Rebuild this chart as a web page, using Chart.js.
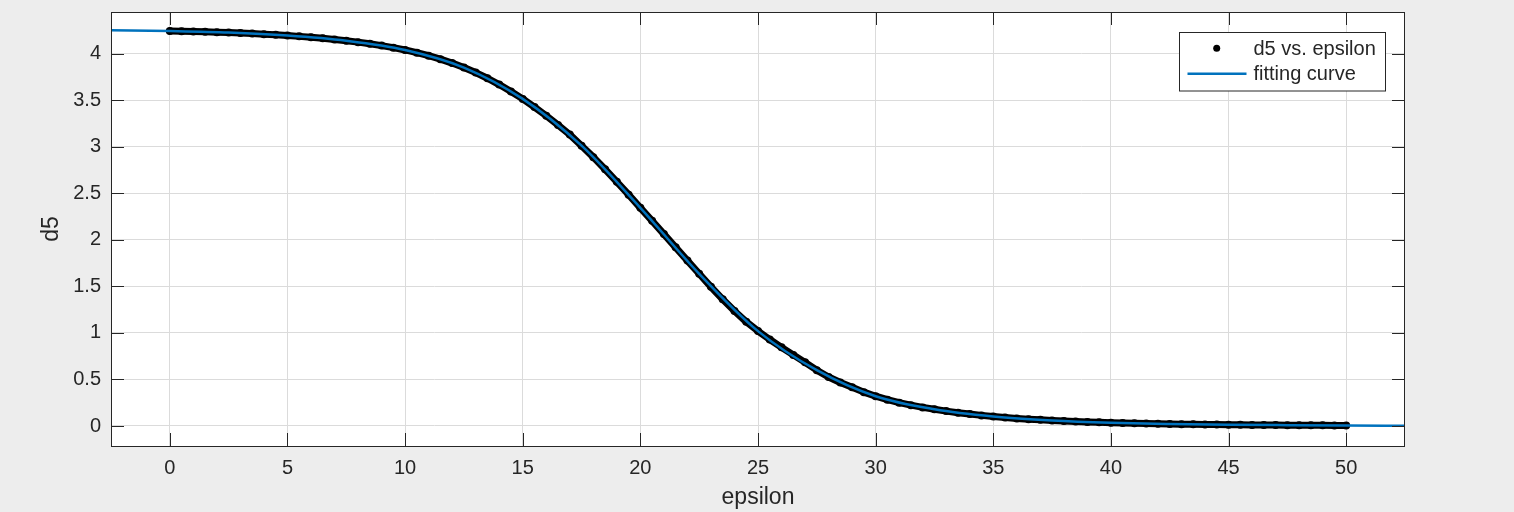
<!DOCTYPE html>
<html>
<head>
<meta charset="utf-8">
<script src="https://cdn.jsdelivr.net/npm/chart.js@4/dist/chart.umd.min.js"></script>
<style>
    html, body { margin: 0; padding: 0; background: #ededed; }
    #wrap { width: 1514px; height: 512px; position: relative; }
</style>
</head>
<body>
<div id="wrap"><canvas id="fitChart"></canvas></div>
<script>
// measured points (black dots)
const epsilon = [
    0, 0.5, 1, 1.5, 2, 2.5, 3, 3.5, 4, 4.5, 5, 5.5, 6, 6.5, 7, 7.5, 8, 8.5, 9, 9.5,
    10, 10.5, 11, 11.5, 12, 12.5, 13, 13.5, 14, 14.5, 15, 15.5, 16, 16.5, 17, 17.5, 18, 18.5, 19, 19.5,
    20, 20.5, 21, 21.5, 22, 22.5, 23, 23.5, 24, 24.5, 25, 25.5, 26, 26.5, 27, 27.5, 28, 28.5, 29, 29.5,
    30, 30.5, 31, 31.5, 32, 32.5, 33, 33.5, 34, 34.5, 35, 35.5, 36, 36.5, 37, 37.5, 38, 38.5, 39, 39.5,
    40, 40.5, 41, 41.5, 42, 42.5, 43, 43.5, 44, 44.5, 45, 45.5, 46, 46.5, 47, 47.5, 48, 48.5, 49, 49.5, 50
];
const d5 = [
    4.245, 4.243, 4.240, 4.237, 4.233, 4.229, 4.224, 4.218, 4.212, 4.205,
    4.197, 4.188, 4.178, 4.167, 4.155, 4.141, 4.126, 4.109, 4.089, 4.067,
    4.042, 4.013, 3.980, 3.943, 3.901, 3.853, 3.799, 3.738, 3.670, 3.596,
    3.516, 3.428, 3.335, 3.236, 3.132, 3.013, 2.890, 2.760, 2.625, 2.486,
    2.345, 2.205, 2.063, 1.920, 1.778, 1.636, 1.496, 1.362, 1.236, 1.120,
    1.020, 0.930, 0.846, 0.764, 0.684, 0.600, 0.527, 0.468, 0.416, 0.364,
    0.320, 0.283, 0.251, 0.224, 0.200, 0.180, 0.160, 0.143, 0.128, 0.114,
    0.102, 0.091, 0.081, 0.073, 0.066, 0.059, 0.053, 0.048, 0.043, 0.039,
    0.035, 0.032, 0.029, 0.026, 0.024, 0.022, 0.020, 0.018, 0.017, 0.015,
    0.014, 0.013, 0.012, 0.011, 0.010, 0.009, 0.008, 0.007, 0.007, 0.006, 0.005
];

// fitted curve (blue)
const fitEpsilon = [-2.5, 0, 2.5, 5, 7.5, 10, 12.5, 15, 17.5, 20, 22.5, 25, 27.5, 30, 32.5, 35, 37.5, 40, 42.5, 45, 47.5, 50, 52.5];
const fitD5 = [4.255, 4.245, 4.229, 4.197, 4.141, 4.042, 3.853, 3.516, 3.013, 2.345, 1.636, 1.020, 0.600, 0.320, 0.180, 0.102, 0.059, 0.035, 0.022, 0.014, 0.009, 0.005, 0.003];

const xTicks = [0, 5, 10, 15, 20, 25, 30, 35, 40, 45, 50];
const yTicks = [0, 0.5, 1, 1.5, 2, 2.5, 3, 3.5, 4];
const xLabel = 'epsilon';
const yLabel = 'd5';
const legendLabels = ['d5 vs. epsilon', 'fitting curve'];

const textColor = '#262626';
const fitColor = '#0072BD';
const fontFamily = '"Liberation Sans", Arial, Helvetica, sans-serif';

const matlabAxes = {
    id: 'matlabAxes',
    beforeDatasetsDraw(chart) {
        const a = chart.chartArea;
        const ctx = chart.ctx;
        ctx.save();
        ctx.globalCompositeOperation = 'destination-over';
        ctx.fillStyle = '#ffffff';
        ctx.fillRect(a.left, a.top, a.right - a.left, a.bottom - a.top);
        ctx.restore();
    },
    afterDatasetsDraw(chart) {
        const a = chart.chartArea;
        const ctx = chart.ctx;
        const xs = chart.scales.x;
        const ys = chart.scales.y;
        const tl = 13;
        ctx.save();
        ctx.strokeStyle = textColor;
        ctx.lineWidth = 1;
        ctx.beginPath();
        xTicks.forEach(v => {
            const px = Math.round(xs.getPixelForValue(v)) + 0.5;
            ctx.moveTo(px, a.bottom);
            ctx.lineTo(px, a.bottom - tl);
            ctx.moveTo(px, a.top);
            ctx.lineTo(px, a.top + tl);
        });
        yTicks.forEach(v => {
            const py = Math.round(ys.getPixelForValue(v)) + 0.5;
            ctx.moveTo(a.left, py);
            ctx.lineTo(a.left + tl, py);
            ctx.moveTo(a.right, py);
            ctx.lineTo(a.right - tl, py);
        });
        ctx.stroke();
        ctx.strokeRect(a.left + 0.5, a.top + 0.5, a.right - a.left - 1, a.bottom - a.top);

        // legend
        const lw = 206, lh = 58.5;
        const lx = a.right - 19.5 - lw;
        const ly = a.top + 20.5;
        ctx.fillStyle = '#ffffff';
        ctx.fillRect(lx, ly, lw, lh);
        ctx.strokeRect(lx, ly, lw, lh);

        ctx.beginPath();
        ctx.arc(lx + 37.2, ly + 15.8, 3.5, 0, Math.PI * 2);
        ctx.fillStyle = '#000000';
        ctx.fill();

        ctx.beginPath();
        ctx.moveTo(lx + 8, ly + 41.2);
        ctx.lineTo(lx + 67, ly + 41.2);
        ctx.strokeStyle = fitColor;
        ctx.lineWidth = 2.5;
        ctx.stroke();

        ctx.fillStyle = textColor;
        ctx.font = '20px ' + fontFamily;
        ctx.textAlign = 'left';
        ctx.textBaseline = 'middle';
        ctx.fillText(legendLabels[0], lx + 74, ly + 16.5);
        ctx.fillText(legendLabels[1], lx + 74, ly + 42.3);
        ctx.restore();
    }
};

const ctxFit = document.getElementById('fitChart').getContext('2d');

new Chart(ctxFit, {
    type: 'scatter',
    data: {
        datasets: [{
            label: legendLabels[0],
            data: epsilon.map((e, i) => ({ x: e, y: d5[i] })),
            showLine: true,
            borderColor: '#000000',
            borderWidth: 7,
            borderCapStyle: 'round',
            borderJoinStyle: 'round',
            pointRadius: 4,
            pointHoverRadius: 4,
            pointBorderWidth: 0,
            pointBackgroundColor: '#000000',
            order: 2
        }, {
            label: legendLabels[1],
            data: fitEpsilon.map((e, i) => ({ x: e, y: fitD5[i] })),
            showLine: true,
            borderColor: fitColor,
            borderWidth: 2.5,
            cubicInterpolationMode: 'monotone',
            pointRadius: 0,
            pointHoverRadius: 0,
            order: 1
        }]
    },
    options: {
        responsive: true,
        maintainAspectRatio: false,
        animation: false,
        events: [],
        layout: { padding: { top: 12, right: 109, left: 0, bottom: 0 } },
        plugins: {
            legend: { display: false },
            tooltip: { enabled: false }
        },
        scales: {
            x: {
                type: 'linear',
                min: -2.5,
                max: 52.5,
                afterBuildTicks: s => { s.ticks = xTicks.map(v => ({ value: v })); },
                afterFit: s => { s.height = 66; s.paddingLeft = 0; s.paddingRight = 0; },
                grid: { color: '#dbdbdb', drawTicks: false },
                border: { display: false },
                ticks: {
                    padding: 10,
                    color: textColor,
                    font: { family: fontFamily, size: 20 },
                    callback: v => String(v)
                },
                title: {
                    display: true,
                    text: xLabel,
                    color: textColor,
                    font: { family: fontFamily, size: 23 },
                    padding: { top: 0, bottom: 1 }
                }
            },
            y: {
                type: 'linear',
                min: -0.215,
                max: 4.45,
                afterBuildTicks: s => { s.ticks = yTicks.map(v => ({ value: v })); },
                afterFit: s => { s.width = 111; s.paddingTop = 0; s.paddingBottom = 0; },
                grid: { color: '#dbdbdb', drawTicks: false },
                border: { display: false },
                ticks: {
                    padding: 10,
                    color: textColor,
                    font: { family: fontFamily, size: 20 },
                    callback: v => String(v)
                },
                title: {
                    display: true,
                    text: yLabel,
                    color: textColor,
                    font: { family: fontFamily, size: 23 },
                    padding: { top: 38, bottom: 0 }
                }
            }
        }
    },
    plugins: [matlabAxes]
});
</script>
</body>
</html>
